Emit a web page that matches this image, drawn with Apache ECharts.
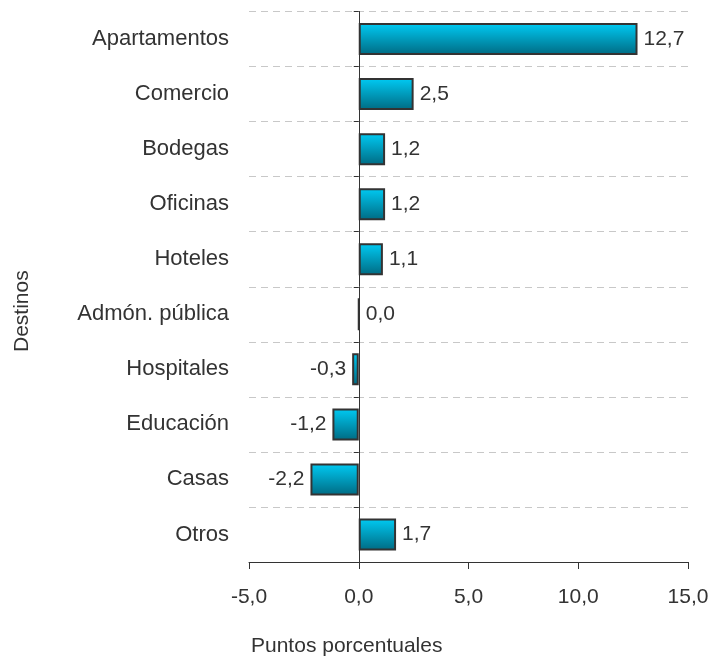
<!DOCTYPE html>
<html>
<head>
<meta charset="utf-8">
<script src="https://cdn.jsdelivr.net/npm/echarts@6/dist/echarts.min.js"></script>
<style>
  html, body { margin: 0; padding: 0; background: #fff; }
  #chart { width: 711px; height: 658px; }
</style>
</head>
<body>
<div id="chart"></div>
<script>
// datos del grafico
const categorias = ['Apartamentos', 'Comercio', 'Bodegas', 'Oficinas', 'Hoteles', 'Admón. pública', 'Hospitales', 'Educación', 'Casas', 'Otros']
const valores = [12.7, 2.5, 1.2, 1.2, 1.1, 0.0, -0.3, -1.2, -2.2, 1.7]
const ejeX = { min: -5, max: 15, interval: 5 }

const fuente = '"Liberation Sans", Arial, sans-serif'
const gris = '#333'
const coma = v => v.toFixed(1).replace('.', ',')

const chart = echarts.init(document.getElementById('chart'))
chart.setOption({
  backgroundColor: '#fff',
  animation: false,
  textStyle: { fontFamily: fuente },
  grid: { left: 249, right: 23, top: 11.5, bottom: 96, containLabel: false, outerBoundsMode: 'none' },
  xAxis: {
    type: 'value',
    min: ejeX.min,
    max: ejeX.max,
    interval: ejeX.interval,
    axisLine: { show: true, lineStyle: { color: gris, width: 1 } },
    axisTick: { show: true, length: 7, lineStyle: { color: gris } },
    axisLabel: { color: gris, fontSize: 21, fontFamily: fuente, margin: 25, formatter: v => coma(v) },
    splitLine: { show: false }
  },
  yAxis: {
    type: 'category',
    inverse: true,
    data: categorias,
    axisLine: { show: true, onZero: true, lineStyle: { color: gris, width: 1 } },
    axisTick: { show: true, length: 5, lineStyle: { color: gris } },
    axisLabel: { color: gris, fontSize: 22, fontFamily: fuente, margin: 20 },
    splitLine: { show: true, lineStyle: { color: '#c8c8c8', type: [7, 5], width: 1 } }
  },
  series: [{
    type: 'bar',
    barWidth: 32,
    itemStyle: {
      borderColor: '#333',
      borderWidth: 2,
      color: new echarts.graphic.LinearGradient(0, 0, 0, 1, [
        { offset: 0, color: '#00cbf4' },
        { offset: 1, color: '#006a82' }
      ])
    },
    label: {
      show: true,
      color: gris,
      fontSize: 21,
      fontFamily: fuente,
      distance: 6,
      formatter: p => coma(p.value)
    },
    data: valores.map(v => ({ value: v, label: { position: v < 0 ? 'left' : 'right' } }))
  }],
  graphic: [
    {
      type: 'text',
      left: 251,
      top: 636,
      style: { text: 'Puntos porcentuales', fill: gris, font: '21px ' + fuente }
    },
    {
      type: 'text',
      x: 12,
      y: 352,
      rotation: Math.PI / 2,
      style: { text: 'Destinos', fill: gris, font: '21px ' + fuente }
    }
  ]
})
</script>
</body>
</html>
